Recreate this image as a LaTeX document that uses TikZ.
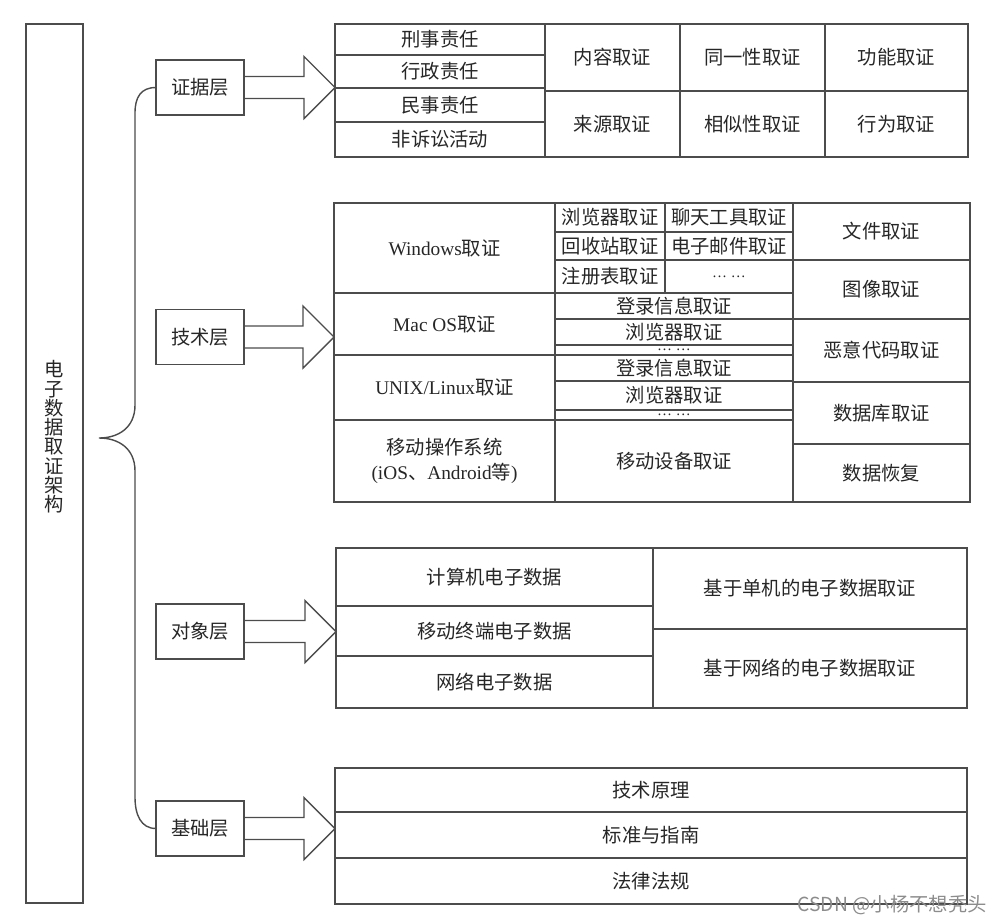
\documentclass[tikz,border=0pt]{standalone}
\usepackage{fontspec}
\setmainfont{Liberation Serif}
\newfontfamily\cjk{Noto Sans CJK SC}
\usetikzlibrary{calc}

\tikzset{
  frame/.style={draw=black!70, line width=0.8pt, inner sep=0pt, outer sep=0pt},
  cellbox/.style={frame},
  layerbox/.style={frame, minimum width=1.76cm, minimum height=1.1cm},
  brace/.style={draw=black!70, line width=0.8pt},
  blockarrow/.style={draw=black!70, line width=0.8pt, line join=miter}
}

% table cell from its corners (in pixel units)
\newcommand{\tabcell}[6]{%
  \node[cellbox, minimum width={(#4-#2)*0.02cm}, minimum height={(#5-#3)*0.02cm}]
    (#1) at ({(#2+#4)/2},{(#3+#5)/2}) {#6};}
\newcommand{\dotsrow}{{\rmfamily\fontsize{8.5}{8.5}\selectfont … …}}

\begin{document}
\begin{tikzpicture}[x=0.02cm, y=-0.02cm, font=\cjk\fontsize{11}{14.5}\selectfont, text=black!85]
    \useasboundingbox (0,0) rectangle (999,923);

    % Title column
    \node[frame, minimum width=1.14cm, minimum height=17.58cm] (frame) at (54.5,463.5) {};
    \node[align=center, font=\cjk\fontsize{11}{11}\selectfont] (title) at (54.5,437)
        {电\\子\\数\\据\\取\\证\\架\\构};

    % Layers
    \node[layerbox] (ev) at (200,87.5) {证据层};
    \node[layerbox] (te) at (200,337) {技术层};
    \node[layerbox] (ob) at (200,631.5) {对象层};
    \node[layerbox] (ba) at (200,828.5) {基础层};

    % Brace
    \coordinate (tip) at (99,438);
    \draw[brace] (ev.west) .. controls (141,87.5) and (135,97) .. (135,113) -- (135,405)
        .. controls (135,428) and (118,438) .. (tip)
        .. controls (118,438) and (135,448) .. (135,471) -- (135,797)
        .. controls (135,815) and (141,828.5) .. (ba.west);

    % Evidence table
    \tabcell{xs}{335}{24}{545}{55}{刑事责任}
    \tabcell{xz}{335}{55}{545}{88}{行政责任}
    \tabcell{ms}{335}{88}{545}{122}{民事责任}
    \tabcell{fs}{335}{122}{545}{157}{非诉讼活动}
    \tabcell{nr}{545}{24}{680}{91}{内容取证}
    \tabcell{ty}{680}{24}{825}{91}{同一性取证}
    \tabcell{gn}{825}{24}{968}{91}{功能取证}
    \tabcell{ly}{545}{91}{680}{157}{来源取证}
    \tabcell{xss}{680}{91}{825}{157}{相似性取证}
    \tabcell{xw}{825}{91}{968}{157}{行为取证}

    % Technology table
    \tabcell{win}{334}{203}{555}{293}{{\rmfamily Windows}取证}
    \tabcell{mac}{334}{293}{555}{355}{{\rmfamily Mac OS}取证}
    \tabcell{unix}{334}{355}{555}{420}{{\rmfamily UNIX/Linux}取证}
    \node[cellbox, align=center, minimum width=4.42cm, minimum height=1.64cm] (mos) at (444.5,461)
        {移动操作系统\\{\rmfamily (iOS}、{\rmfamily Android}等{\rmfamily )}};
    \tabcell{wbr}{555}{203}{665}{232}{浏览器取证}
    \tabcell{wlt}{665}{203}{793}{232}{聊天工具取证}
    \tabcell{whs}{555}{232}{665}{260}{回收站取证}
    \tabcell{wyj}{665}{232}{793}{260}{电子邮件取证}
    \tabcell{wzc}{555}{260}{665}{293}{注册表取证}
    \tabcell{wdt}{665}{260}{793}{293}{\dotsrow}
    \tabcell{mdl}{555}{293}{793}{319}{登录信息取证}
    \tabcell{mbr}{555}{319}{793}{345}{浏览器取证}
    \tabcell{mdt}{555}{345}{793}{355}{\dotsrow}
    \tabcell{udl}{555}{355}{793}{381}{登录信息取证}
    \tabcell{ubr}{555}{381}{793}{410}{浏览器取证}
    \tabcell{udt}{555}{410}{793}{420}{\dotsrow}
    \tabcell{ydsb}{555}{420}{793}{502}{移动设备取证}
    \tabcell{wj}{793}{203}{970}{260}{文件取证}
    \tabcell{tx}{793}{260}{970}{319}{图像取证}
    \tabcell{ey}{793}{319}{970}{382}{恶意代码取证}
    \tabcell{sjk}{793}{382}{970}{444}{数据库取证}
    \tabcell{hf}{793}{444}{970}{502}{数据恢复}

    % Object table
    \tabcell{jsj}{336}{548}{653}{606}{计算机电子数据}
    \tabcell{yd}{336}{606}{653}{656}{移动终端电子数据}
    \tabcell{wl}{336}{656}{653}{708}{网络电子数据}
    \tabcell{dj}{653}{548}{967}{629}{基于单机的电子数据取证}
    \tabcell{wlqz}{653}{629}{967}{708}{基于网络的电子数据取证}

    % Basis table
    \tabcell{yl}{335}{768}{967}{812}{技术原理}
    \tabcell{bz}{335}{812}{967}{858}{标准与指南}
    \tabcell{fl}{335}{858}{967}{904}{法律法规}

    % Block arrows from layers to tables
    \foreach \l/\t in {ev/xs, te/win, ob/jsj, ba/yl}
        \draw[blockarrow] ($(\l.east)+(0,-11)$) -- ($(\l.east -| \t.west)+(-31,-11)$)
            -- ($(\l.east -| \t.west)+(-31,-31)$) -- (\l.east -| \t.west)
            -- ($(\l.east -| \t.west)+(-31,31)$) -- ($(\l.east -| \t.west)+(-31,11)$)
            -- ($(\l.east)+(0,11)$);

    % Watermark
    \node[anchor=east, text=black!45] (wm) at (993,905) {CSDN @小杨不想秃头};
\end{tikzpicture}
\end{document}
